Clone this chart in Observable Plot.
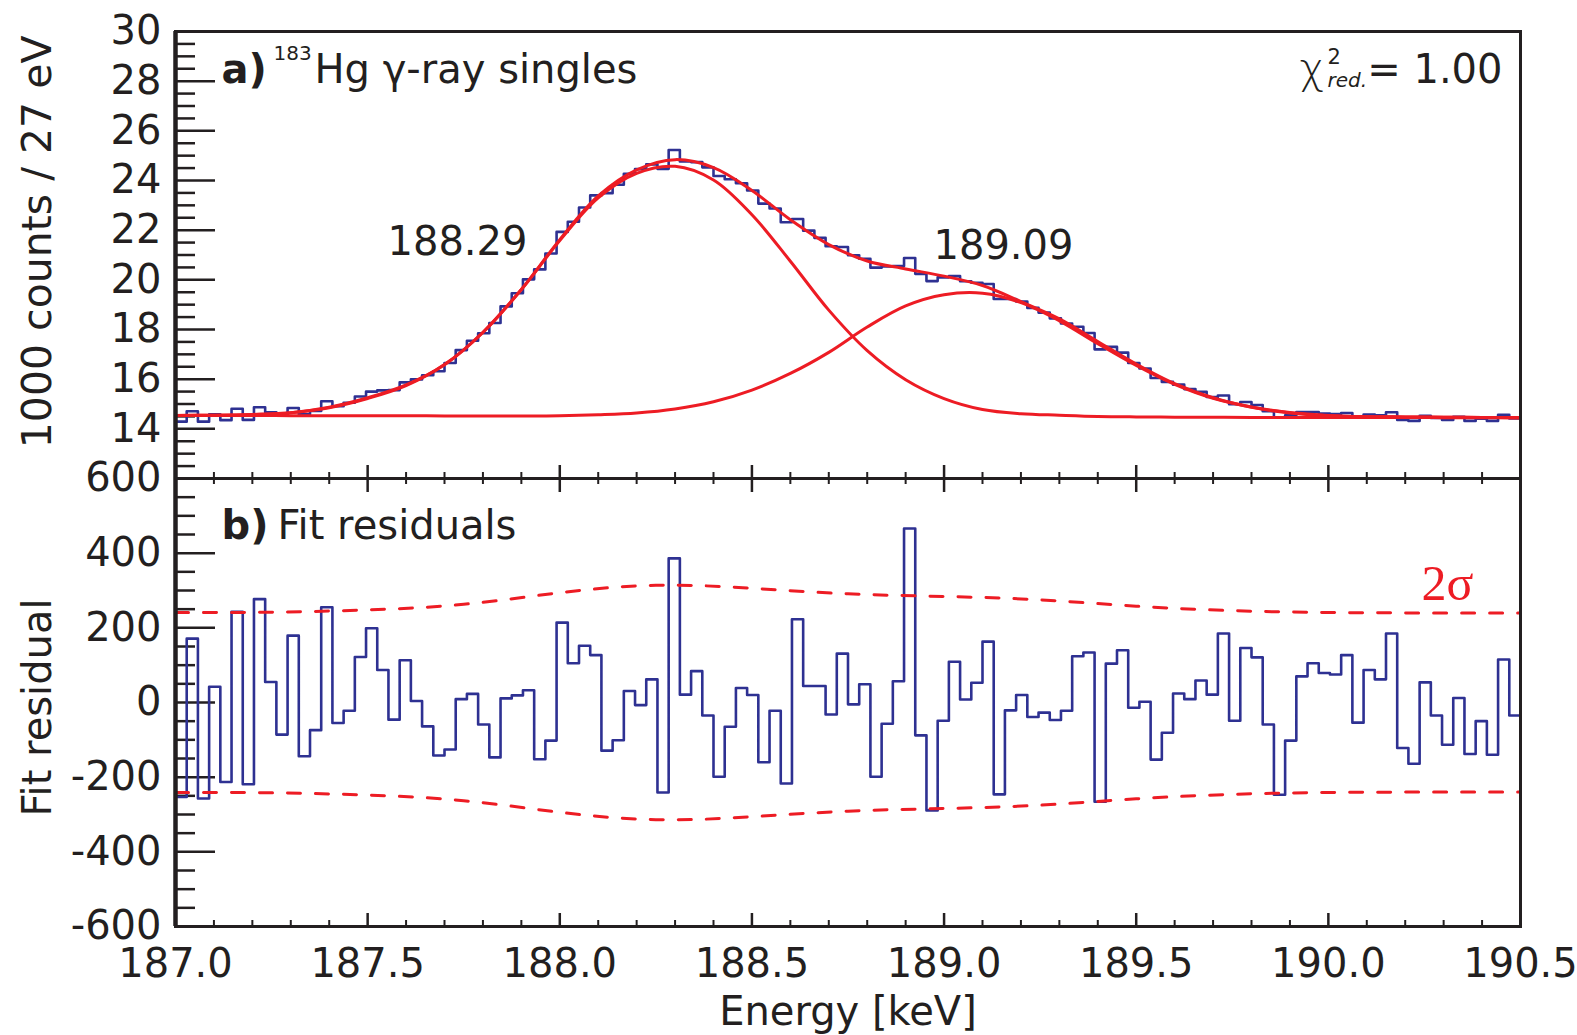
<!DOCTYPE html>
<html>
<head>
<meta charset="utf-8">
<script src="https://cdn.jsdelivr.net/npm/d3@7"></script>
<script src="https://cdn.jsdelivr.net/npm/@observablehq/plot@0.6"></script>
<style>
  html, body { margin: 0; padding: 0; background: #ffffff; overflow: hidden; }
  #chart { position: relative; width: 1577px; height: 1035px; }
  #chart svg { position: absolute; left: 0; top: 0; }
</style>
</head>
<body>
<div id="chart"></div>
<script>
// ---------- data ----------
const energyMin = 187.0;
const energyMax = 190.5;
const nBins = 120;

// histogram, 1000 counts per bin
const counts = [
  14.29, 14.71, 14.29, 14.59, 14.35, 14.81, 14.36, 14.87, 14.67, 14.54,
  14.84, 14.59, 14.72, 15.11, 14.91, 15.05, 15.30, 15.50, 15.55, 15.56,
  15.87, 15.99, 16.16, 16.32, 16.65, 17.17, 17.55, 17.85, 18.26, 18.93,
  19.46, 20.02, 20.42, 21.06, 21.93, 22.34, 22.91, 23.40, 23.49, 23.83,
  24.27, 24.46, 24.65, 24.47, 25.23, 24.77, 24.74, 24.53, 24.18, 24.05,
  23.89, 23.60, 23.07, 22.87, 22.32, 22.45, 21.98, 21.69, 21.35, 21.32,
  20.99, 20.85, 20.49, 20.54, 20.56, 20.88, 20.24, 19.95, 20.10, 20.15,
  19.94, 19.88, 19.83, 19.23, 19.23, 19.13, 18.87, 18.68, 18.45, 18.24,
  18.11, 17.86, 17.20, 17.30, 17.07, 16.65, 16.43, 16.05, 15.89, 15.78,
  15.60, 15.49, 15.28, 15.34, 14.99, 15.08, 14.96, 14.71, 14.45, 14.54,
  14.68, 14.68, 14.62, 14.60, 14.64, 14.45, 14.58, 14.55, 14.67, 14.36,
  14.32, 14.52, 14.44, 14.36, 14.48, 14.32, 14.41, 14.32, 14.57, 14.42
];

// fit residuals, counts per bin
const residuals = [
  -253, 171, -257, 42, -213, 243, -219, 277, 55, -86,
  179, -144, -74, 255, -55, -22, 122, 199, 87, -46,
  113, 4, -64, -142, -126, 9, 23, -59, -147, 11,
  19, 33, -152, -102, 214, 105, 152, 127, -129, -101,
  31, -7, 62, -241, 386, 21, 84, -35, -199, -65,
  39, 20, -160, -22, -217, 223, 44, 44, -32, 131,
  -5, 49, -199, -57, 57, 466, -88, -289, -49, 109,
  8, 53, 163, -246, -21, 20, -39, -27, -47, -22,
  124, 134, -266, 104, 140, -14, 2, -153, -81, 24,
  9, 59, 21, 185, -49, 146, 121, -59, -247, -102,
  70, 105, 79, 75, 127, -54, 87, 62, 185, -122,
  -164, 54, -35, -113, 12, -138, -50, -140, 115, -35
];

// fitted curves (1000 counts), sampled every 0.1 keV
const fitEnergy = [
  187.0, 187.1, 187.2, 187.3, 187.4, 187.5, 187.6, 187.7, 187.8, 187.9,
  188.0, 188.1, 188.2, 188.3, 188.4, 188.5, 188.6, 188.7, 188.8, 188.9,
  189.0, 189.1, 189.2, 189.3, 189.4, 189.5, 189.6, 189.7, 189.8, 189.9,
  190.0, 190.1, 190.2, 190.3, 190.4, 190.5
];
const fitTotal = [
  14.54, 14.55, 14.58, 14.65, 14.87, 15.25, 15.77, 16.58, 17.88, 19.61,
  21.62, 23.38, 24.43, 24.84, 24.52, 23.60, 22.42, 21.42, 20.76, 20.44,
  20.15, 19.77, 19.12, 18.43, 17.52, 16.61, 15.82, 15.25, 14.87, 14.64,
  14.53, 14.49, 14.48, 14.47, 14.46, 14.45
];
const fitPeak1 = [
  14.54, 14.55, 14.58, 14.65, 14.85, 15.22, 15.74, 16.59, 17.89, 19.61,
  21.58, 23.30, 24.29, 24.57, 24.02, 22.62, 20.75, 18.78, 17.15, 15.98,
  15.22, 14.78, 14.61, 14.55, 14.50, 14.48, 14.47, 14.47, 14.46, 14.46,
  14.46, 14.46, 14.46, 14.45, 14.45, 14.45
];
const fitPeak2 = [
  14.54, 14.54, 14.54, 14.53, 14.53, 14.53, 14.53, 14.52, 14.52, 14.52,
  14.53, 14.57, 14.64, 14.80, 15.09, 15.56, 16.23, 17.08, 18.10, 18.95,
  19.40, 19.46, 19.08, 18.35, 17.43, 16.55, 15.79, 15.23, 14.88, 14.66,
  14.54, 14.49, 14.48, 14.47, 14.46, 14.45
];

// 2 sigma band of the residuals
const bandEnergy = [187.0, 187.25, 187.5, 187.75, 188.0, 188.25, 188.5, 188.75, 189.0, 189.25, 189.5, 189.75, 190.0, 190.25, 190.5];
const band2Sigma = [241, 242, 248, 263, 294, 314, 306, 291, 284, 275, 258, 246, 241, 240, 240];

// tick labels
const xTicks = [187.0, 187.5, 188.0, 188.5, 189.0, 189.5, 190.0, 190.5];
const yTicksTop = [14, 16, 18, 20, 22, 24, 26, 28, 30];
const yTicksBottom = [-600, -400, -200, 0, 200, 400, 600];

// ---------- layout / style ----------
const W = 1577, H = 1035;
const frameLeft = 175, frameRight = 1520, topY = 31, midY = 478, bottomY = 926;
const plotW = frameRight - frameLeft;
const topH = midY - topY;
const botH = bottomY - midY;
const ink = "#231f20", blue = "#2e3192", red = "#ed1c24";
const sans = "'DejaVu Sans', 'Liberation Sans', sans-serif";
const serif = "'Liberation Serif', 'DejaVu Serif', serif";
const fs = 40;

// derived helpers
const edges = d3.range(nBins + 1).map(i => energyMin + i * (energyMax - energyMin) / nBins);
const stepCounts = edges.map((_, i) => counts[Math.min(i, nBins - 1)]);
const stepResiduals = edges.map((_, i) => residuals[Math.min(i, nBins - 1)]);
const xMinor = d3.range(1, 35).filter(i => i % 5 !== 0).map(i => energyMin + i / 10);
const yMajorTop = yTicksTop.filter(v => v < 30);
const yMinorTop = d3.range(12.5, 30, 0.5).filter(v => v % 2 !== 0);
const yMajorBottom = yTicksBottom.filter(v => Math.abs(v) < 600);
const yMinorBottom = d3.range(-550, 600, 50).filter(v => v % 200 !== 0);
const bandUpper = band2Sigma;
const bandLower = band2Sigma.map(v => -v);

const label = (txt, opts) => Plot.text([txt], {text: d => d, fill: ink, fontFamily: sans, fontSize: fs, lineAnchor: "bottom", textAnchor: "start", ...opts});

const baseStyle = {background: "transparent", overflow: "visible", fontFamily: sans, fontSize: fs + "px", color: ink};

// ---------- top panel ----------
const topPlot = Plot.plot({
  width: W, height: H,
  marginLeft: frameLeft, marginRight: W - frameRight, marginTop: topY, marginBottom: H - midY,
  x: {domain: [energyMin, energyMax], axis: null},
  y: {domain: [12, 30]},
  style: baseStyle,
  marks: [
    Plot.ruleY(yMajorTop, {stroke: ink, strokeWidth: 2.5, insetRight: plotW - 40}),
    Plot.ruleY(yMinorTop, {stroke: ink, strokeWidth: 2.5, insetRight: plotW - 20}),
    Plot.ruleX(xTicks, {stroke: ink, strokeWidth: 2.5, insetTop: topH - 13}),
    Plot.ruleX(xMinor, {stroke: ink, strokeWidth: 2, insetTop: topH - 6}),
    Plot.line(edges, {x: edges, y: stepCounts, curve: "step-after", stroke: blue, strokeWidth: 2.6}),
    Plot.line(fitEnergy, {x: fitEnergy, y: fitPeak1, curve: "catmull-rom", stroke: red, strokeWidth: 3}),
    Plot.line(fitEnergy, {x: fitEnergy, y: fitPeak2, curve: "catmull-rom", stroke: red, strokeWidth: 3}),
    Plot.line(fitEnergy, {x: fitEnergy, y: fitTotal, curve: "catmull-rom", stroke: red, strokeWidth: 3}),
    Plot.frame({stroke: ink, strokeWidth: 3}),
    Plot.ruleX([energyMin], {stroke: ink, strokeWidth: 4.5}),
    Plot.axisY({ticks: yTicksTop, tickSize: 0, tickPadding: 14, tickFormat: d => String(d), label: null, fontSize: fs, fill: ink}),
    label("a)", {frameAnchor: "top-left", dx: 46, dy: 51, fontWeight: "bold"}),
    label("183", {frameAnchor: "top-left", dx: 98, dy: 28, fontSize: 20}),
    label("Hg γ-ray singles", {frameAnchor: "top-left", dx: 139, dy: 51}),
    label("χ", {frameAnchor: "top-left", dx: 1124, dy: 51, fontSize: 42, fontWeight: 300}),
    label("2", {frameAnchor: "top-left", dx: 1152, dy: 32, fontSize: 21}),
    label("red.", {frameAnchor: "top-left", dx: 1152, dy: 55, fontSize: 20, fontStyle: "italic"}),
    label("= 1.00", {frameAnchor: "top-right", dx: -18, dy: 51, textAnchor: "end"}),
    label("188.29", {frameAnchor: "top-left", dx: 212, dy: 223}),
    label("189.09", {frameAnchor: "top-left", dx: 758, dy: 227}),
    label("1000 counts / 27 eV", {frameAnchor: "top-left", dx: -125, dy: 4, rotate: -90, textAnchor: "end", fontSize: 41})
  ]
});

// ---------- bottom panel ----------
const bottomPlot = Plot.plot({
  width: W, height: H,
  marginLeft: frameLeft, marginRight: W - frameRight, marginTop: midY, marginBottom: H - bottomY,
  x: {domain: [energyMin, energyMax]},
  y: {domain: [-600, 600]},
  style: baseStyle,
  marks: [
    Plot.ruleY(yMajorBottom, {stroke: ink, strokeWidth: 2.5, insetRight: plotW - 40}),
    Plot.ruleY(yMinorBottom, {stroke: ink, strokeWidth: 2.5, insetRight: plotW - 20}),
    Plot.ruleX(xTicks, {stroke: ink, strokeWidth: 2.5, insetBottom: botH - 14}),
    Plot.ruleX(xMinor, {stroke: ink, strokeWidth: 2, insetBottom: botH - 6}),
    Plot.ruleX(xTicks, {stroke: ink, strokeWidth: 2.5, insetTop: botH - 13}),
    Plot.ruleX(xMinor, {stroke: ink, strokeWidth: 2, insetTop: botH - 6}),
    Plot.line(edges, {x: edges, y: stepResiduals, curve: "step-after", stroke: blue, strokeWidth: 2.6}),
    Plot.line(bandEnergy, {x: bandEnergy, y: bandUpper, curve: "natural", stroke: red, strokeWidth: 3, strokeDasharray: "13,15"}),
    Plot.line(bandEnergy, {x: bandEnergy, y: bandLower, curve: "natural", stroke: red, strokeWidth: 3, strokeDasharray: "13,15"}),
    Plot.frame({stroke: ink, strokeWidth: 3}),
    Plot.ruleX([energyMin], {stroke: ink, strokeWidth: 4.5}),
    Plot.axisY({ticks: yTicksBottom, tickSize: 0, tickPadding: 14, tickFormat: d => String(d), label: null, fontSize: fs, fill: ink}),
    Plot.axisX({ticks: xTicks, tickSize: 0, tickPadding: 22, tickFormat: d => d.toFixed(1), label: null, fontSize: fs, fill: ink}),
    label("b)", {frameAnchor: "top-left", dx: 46, dy: 60, fontWeight: "bold"}),
    label("Fit residuals", {frameAnchor: "top-left", dx: 102, dy: 60}),
    label("2σ", {frameAnchor: "top-left", dx: 1246, dy: 121, fill: red, fontFamily: serif, fontSize: 50}),
    label("Energy [keV]", {frameAnchor: "bottom", dy: 98, textAnchor: "middle"}),
    label("Fit residual", {frameAnchor: "left", dx: -125, dy: 5, rotate: -90, textAnchor: "middle"})
  ]
});

const chart = document.getElementById("chart");
chart.appendChild(topPlot);
chart.appendChild(bottomPlot);
</script>
</body>
</html>
